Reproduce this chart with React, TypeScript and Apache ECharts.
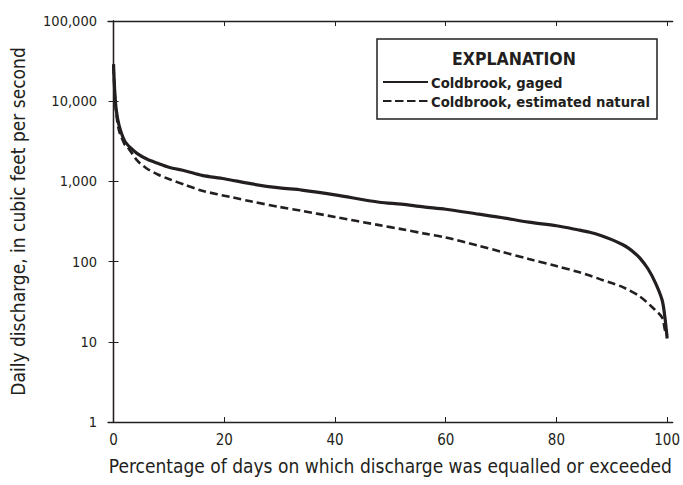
import React, { useEffect, useRef } from "react";
import * as echarts from "echarts";

const gagedX = [0, 0.2, 0.5, 1, 2, 3, 4.3, 6, 8, 10, 13, 16, 20, 25, 30, 34, 40, 48, 52, 56, 60, 66, 70, 75, 80, 84, 86, 88, 90, 92, 93, 94, 95, 96.5, 97.9, 99.1, 99.6, 100];
const gagedY = [29000, 14000, 7700, 5000, 3200, 2650, 2220, 1900, 1680, 1500, 1350, 1190, 1080, 930, 830, 780, 680, 550, 520, 480, 450, 390, 355, 310, 280, 248, 232, 212, 188, 162, 147, 130, 112, 82, 54, 33, 20, 11];

const naturalX = [0, 0.2, 0.5, 1, 2, 2.5, 4.3, 6, 8, 10, 13, 16, 21.5, 25, 30, 34, 40, 48, 52, 56, 60, 66, 70, 75, 80, 84, 86, 88, 90, 92, 95, 97.3, 99.1, 99.6, 100];
const naturalY = [27000, 13000, 7000, 4300, 2900, 2700, 1815, 1450, 1220, 1070, 900, 765, 631, 560, 480, 430, 360, 285, 254, 225, 200, 157, 133, 108, 88, 74, 67, 60, 54, 48, 37, 27, 20, 14, 12];

const xTicks = [0, 20, 40, 60, 80, 100];
const yTicks = [1, 10, 100, 1000, 10000, 100000];

const seriesNames = ["Coldbrook, gaged", "Coldbrook, estimated natural"];

const FONT = "'Liberation Sans Narrow', 'DejaVu Sans Condensed', Arial, sans-serif";
const INK = "#231f20";

export default function App() {
  const ref = useRef<HTMLDivElement>(null);
  useEffect(() => {
    if (!ref.current) return;
    const chart = echarts.init(ref.current, null, { renderer: "svg" });
    const fmt = (v: number) => v.toLocaleString("en-US");
    const axisLine = { show: true, lineStyle: { color: INK, width: 1.3 } };
    const tick = { show: true, inside: true, length: 5, lineStyle: { color: INK, width: 1 } };
    chart.setOption({
      animation: false,
      backgroundColor: "#fff",
      textStyle: { fontFamily: FONT },
      grid: { left: 104, right: 6, top: 21, bottom: 63, containLabel: false },
      xAxis: [
        {
          type: "value", min: -1, max: 101, position: "bottom",
          axisLine, axisTick: { ...tick, customValues: xTicks },
          axisLabel: { customValues: xTicks, fontSize: 15, color: INK, fontFamily: FONT, margin: 10 },
          splitLine: { show: false },
          name: "Percentage of days on which discharge was equalled or exceeded",
          nameLocation: "middle", nameGap: 34,
          nameTextStyle: { fontSize: 19, color: INK, fontFamily: FONT },
        },
        {
          type: "value", min: -1, max: 101, position: "top",
          axisLine, axisTick: { ...tick, customValues: xTicks },
          axisLabel: { show: false }, splitLine: { show: false },
        },
      ],
      yAxis: [
        {
          type: "log", logBase: 10, min: 1, max: 100000, position: "left",
          axisLine, axisTick: { ...tick, customValues: yTicks },
          axisLabel: { customValues: yTicks, formatter: fmt, fontSize: 14.5, color: INK, fontFamily: FONT, margin: 11 },
          splitLine: { show: false }, minorTick: { show: false },
          name: "Daily discharge, in cubic feet per second",
          nameLocation: "middle", nameGap: 81, nameRotate: 90,
          nameTextStyle: { fontSize: 19, color: INK, fontFamily: FONT },
        },
        {
          type: "log", logBase: 10, min: 1, max: 100000, position: "right",
          axisLine, axisTick: { ...tick, customValues: yTicks },
          axisLabel: { show: false }, splitLine: { show: false },
        },
      ],
      series: [
        {
          name: seriesNames[0], type: "line", smooth: 0.3, showSymbol: false,
          data: gagedX.map((x, i) => [x, gagedY[i]]),
          lineStyle: { color: INK, width: 3.2, type: "solid" },
        },
        {
          name: seriesNames[1], type: "line", smooth: 0.3, showSymbol: false,
          data: naturalX.map((x, i) => [x, naturalY[i]]),
          lineStyle: { color: INK, width: 2.6, type: [8, 4] },
        },
      ],
      graphic: [
        {
          type: "rect", shape: { x: 377, y: 39, width: 280, height: 80 },
          style: { fill: "#fff", stroke: INK, lineWidth: 1.5 }, z: 10,
        },
        {
          type: "text", x: 514, y: 59, z: 11,
          style: { text: "EXPLANATION", font: `bold 17.5px ${FONT}`, fill: INK, align: "center", verticalAlign: "middle" },
        },
        {
          type: "line", shape: { x1: 383, y1: 82, x2: 428, y2: 82 }, z: 11,
          style: { stroke: INK, lineWidth: 2.2 },
        },
        {
          type: "text", x: 431, y: 82, z: 11,
          style: { text: seriesNames[0], font: `bold 14.7px ${FONT}`, fill: INK, align: "left", verticalAlign: "middle" },
        },
        {
          type: "line", shape: { x1: 383, y1: 101, x2: 428, y2: 101 }, z: 11,
          style: { stroke: INK, lineWidth: 2.2, lineDash: [8.5, 3.5] },
        },
        {
          type: "text", x: 431, y: 101, z: 11,
          style: { text: seriesNames[1], font: `bold 14.7px ${FONT}`, fill: INK, align: "left", verticalAlign: "middle" },
        },
      ],
    });
    return () => chart.dispose();
  }, []);
  return <div ref={ref} style={{ width: 683, height: 485, position: "absolute", left: 0, top: 0 }} />;
}
